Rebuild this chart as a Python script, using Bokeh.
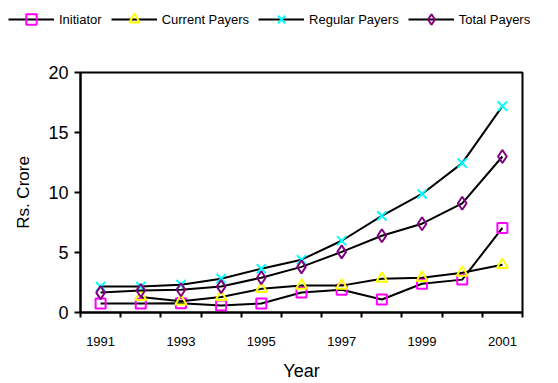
import numpy as np
from bokeh.plotting import figure
from bokeh.layouts import column
from bokeh.models import Range1d, FixedTicker, Legend, LegendItem
from bokeh.embed import file_html
from bokeh.resources import INLINE

years = [1991, 1992, 1993, 1994, 1995, 1996, 1997, 1998, 1999, 2000, 2001]
initiator = [0.75, 0.75, 0.78, 0.58, 0.75, 1.66, 1.9, 1.08, 2.4, 2.74, 7.05]
current_payers = [np.nan, 1.3, 0.94, 1.3, 1.97, 2.24, 2.24, 2.82, 2.9, 3.32, 3.98]
regular_payers = [2.16, 2.16, 2.32, 2.82, 3.65, 4.4, 5.98, 8.05, 9.88, 12.45, 17.2]
total_payers = [1.66, 1.83, 1.9, 2.16, 2.9, 3.8, 5.05, 6.4, 7.4, 9.1, 13.0]
tick_years = [1991, 1993, 1995, 1997, 1999, 2001]
y_ticks = [0, 5, 10, 15, 20]

FONT = "Liberation Sans"
LEG_H = 40

series = [
    ("Initiator", initiator, "square", "#FF00FF", 10),
    ("Current Payers", current_payers, "triangle", "#FFFF00", 11),
    ("Regular Payers", regular_payers, "x", "#00FFFF", 13),
    ("Total Payers", total_payers, "diamond", "#800080", 13),
]

# ---- main plot ----
p = figure(width=558, height=383 - LEG_H, output_backend="svg", toolbar_location=None,
           x_range=Range1d(years[0] - 0.5, years[-1] + 0.5), y_range=Range1d(0, 20),
           min_border_left=80, min_border_right=36, min_border_top=72 - LEG_H,
           min_border_bottom=70)
p.xgrid.visible = False
p.ygrid.visible = False
p.outline_line_color = "black"
p.outline_line_width = 2

xa = p.xaxis[0]
xa.ticker = FixedTicker(ticks=tick_years,
                        minor_ticks=[y - 0.5 for y in years] + [years[-1] + 0.5])
xa.major_tick_line_color = None
xa.minor_tick_out = 5
xa.minor_tick_in = 0
xa.minor_tick_line_width = 2
xa.minor_tick_line_color = "black"
xa.axis_line_width = 2
xa.major_label_text_font = FONT
xa.major_label_text_font_size = "13px"
xa.major_label_text_color = "black"
xa.major_label_standoff = 18
xa.axis_label = "Year"
xa.axis_label_text_font = FONT
xa.axis_label_text_font_size = "18px"
xa.axis_label_text_font_style = "normal"
xa.axis_label_text_color = "black"
xa.axis_label_standoff = 12

ya = p.yaxis[0]
ya.ticker = FixedTicker(ticks=y_ticks)
ya.major_tick_out = 6
ya.major_tick_in = 0
ya.minor_tick_line_color = None
ya.axis_line_width = 2
ya.major_tick_line_width = 2
ya.major_label_text_font = FONT
ya.major_label_text_font_size = "18px"
ya.major_label_text_color = "black"
ya.major_label_standoff = 6
ya.axis_label = "Rs. Crore"
ya.axis_label_text_font = FONT
ya.axis_label_text_font_size = "17px"
ya.axis_label_text_font_style = "normal"
ya.axis_label_text_color = "black"
ya.axis_label_standoff = 12

for name, vals, marker, color, size in series:
    p.line(years, vals, line_color="black", line_width=2)
    p.scatter(years, vals, marker=marker, size=size, fill_color=None,
              line_color=color, line_width=2)

# ---- legend strip (series drawn out of view; only the legend shows) ----
lg = figure(frame_width=558, frame_height=LEG_H, output_backend="svg",
            toolbar_location=None, x_axis_type=None, y_axis_type=None,
            min_border=0, min_border_left=0, min_border_right=0,
            min_border_top=0, min_border_bottom=0,
            x_range=Range1d(0, 1), y_range=Range1d(100, 101))
lg.outline_line_color = None
lg.xgrid.visible = False
lg.ygrid.visible = False
items = []
for name, vals, marker, color, size in series:
    ln = lg.line(years, vals, line_color="black", line_width=2)
    sc = lg.scatter(years, vals, marker=marker, size=size, fill_color=None,
                    line_color=color, line_width=2)
    items.append(LegendItem(label=name, renderers=[ln, sc]))
legend = Legend(items=items, orientation="horizontal", location=(8, 8))
legend.border_line_color = None
legend.background_fill_alpha = 0
legend.glyph_width = 46
legend.glyph_height = 26
legend.label_standoff = 5
legend.spacing = 9
legend.padding = 2
legend.margin = 0
legend.label_text_font = FONT
legend.label_text_font_size = "13px"
legend.label_text_color = "black"
lg.add_layout(legend, "center")

layout = column(lg, p, spacing=0)
open("out.html", "w").write(file_html(layout, INLINE))
